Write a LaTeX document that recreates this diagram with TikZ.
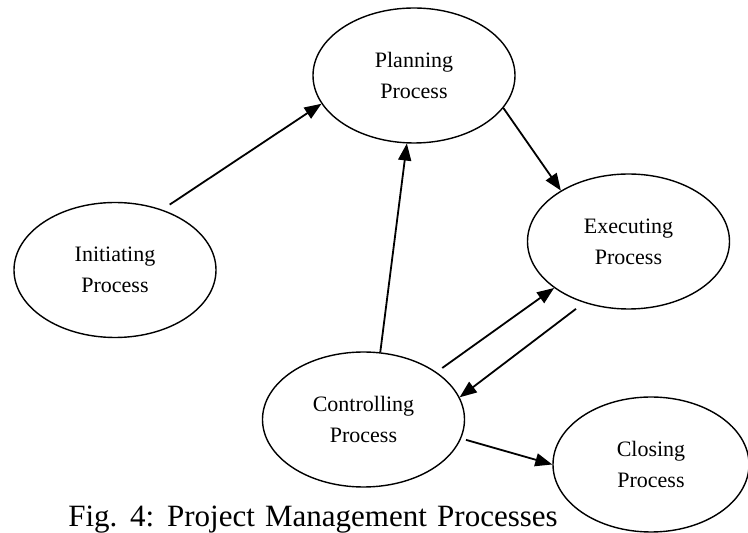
\documentclass[tikz,border=0pt]{standalone}
\usepackage{fontspec}
\setmainfont{Liberation Serif}
\usetikzlibrary{positioning,shapes.geometric,arrows.meta}

\begin{document}
\begin{tikzpicture}[on grid, >={Triangle[length=17pt,width=13pt]},
    proc/.style={ellipse, draw, line width=1.4pt, minimum width=202pt, minimum height=135pt,
        inner sep=0pt, align=center, font=\fontsize{22}{31}\selectfont}]
    \useasboundingbox (0,0) rectangle (748pt,533pt);
    \clip (0,0) rectangle (748pt,533pt);

    \node[proc] (plan) at (414pt,457.5pt) {Planning\\Process};
    \node[proc, below left=194.5pt and 299pt of plan] (init) {Initiating\\Process};
    \node[proc, below right=166pt and 214.5pt of plan] (exec) {Executing\\Process};
    \node[proc, below left=344pt and 50.5pt of plan] (ctrl) {Controlling\\Process};
    \node[proc, minimum width=196pt, below right=45pt and 287.5pt of ctrl] (close) {Closing\\Process};
    \node[anchor=base, font=\fontsize{31}{36}\selectfont] (cap) at (313pt,6pt)
        {\spaceskip=0.33em Fig. 4: Project Management Processes};

    \path[line width=1.8pt]
        (init.52) edge[->, shorten <=9pt] (plan.197)
        (plan.340) edge[->] (exec.143)
        (ctrl.76) edge[->] (plan.264)
        (ctrl.33) edge[->, shorten <=7pt] (exec.212)
        (exec.234) edge[->, shorten <=10pt] (ctrl.13)
        (ctrl.349) edge[->, shorten <=5pt] (close.180)
        ;
\end{tikzpicture}
\end{document}
